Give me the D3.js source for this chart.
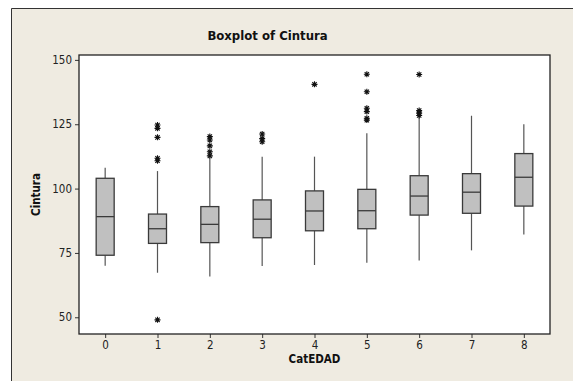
<!DOCTYPE html>
<html>
<head>
<meta charset="utf-8">
<script src="https://cdn.jsdelivr.net/npm/d3@7"></script>
<style>
  body { margin: 0; background: #fff; overflow: hidden; }
  svg { display: block; }
</style>
</head>
<body>
<script>
// data: CatEDAD 0..8
const categories = ['0', '1', '2', '3', '4', '5', '6', '7', '8'];
const whiskerLow = [70, 67.3, 65.8, 69.9, 70.3, 71.2, 72.1, 76.0, 82.2];
const q1 = [74.1, 78.7, 79.0, 80.9, 83.6, 84.4, 89.7, 90.4, 93.2];
const median = [89.1, 84.4, 86.1, 88.1, 91.3, 91.4, 97.1, 98.6, 104.4];
const q3 = [104.0, 90.1, 93.0, 95.6, 99.1, 99.7, 105.0, 105.8, 113.6];
const whiskerHigh = [108.1, 106.8, 111.5, 112.4, 112.4, 121.5, 128.0, 128.3, 125.0];
const outliers = [
  [],
  [124.7, 123.4, 119.9, 111.8, 110.8, 49],
  [120.2, 118.9, 116.6, 114.3, 112.7],
  [121.2, 119.4, 118.2],
  [140.5],
  [144.4, 137.6, 131.2, 129.9, 127.3, 126.6],
  [144.3, 130.3, 129.3, 128.4],
  [],
  []
];
const yTicks = [50, 75, 100, 125, 150];

const width = 573;
const height = 381;
const plot = { left: 79, top: 55, right: 550, bottom: 334 };

const svg = d3.select('body').append('svg')
    .attr('width', width)
    .attr('height', height);

// beige frame, only its left and top edges are in view
svg.append('rect')
    .attr('x', 11).attr('y', 8)
    .attr('width', width - 11).attr('height', height - 8)
    .attr('fill', '#efebe1');
svg.append('path')
    .attr('d', 'M11.5,' + height + 'V8.5H' + width)
    .attr('fill', 'none')
    .attr('stroke', '#333');

svg.append('rect')
    .attr('x', plot.left).attr('y', plot.top)
    .attr('width', plot.right - plot.left).attr('height', plot.bottom - plot.top)
    .attr('fill', '#fff');

const x = d3.scalePoint()
    .domain(categories)
    .range([plot.left, plot.right])
    .padding(0.5);

const y = d3.scaleLinear()
    .domain([43.5, 151.9])
    .range([plot.bottom, plot.top]);

const font = '"DejaVu Sans Condensed", "DejaVu Sans", sans-serif';

const xAxis = svg.append('g')
    .attr('transform', 'translate(0,' + plot.bottom + ')')
    .call(d3.axisBottom(x).tickSize(4).tickPadding(3));
xAxis.select('.domain').remove();

const yAxis = svg.append('g')
    .attr('transform', 'translate(' + plot.left + ',0)')
    .call(d3.axisLeft(y).tickValues(yTicks).tickSize(4).tickPadding(3));
yAxis.select('.domain').remove();

svg.selectAll('.tick text')
    .attr('font-family', font)
    .attr('font-size', 11.5)
    .attr('fill', '#222');
svg.selectAll('.tick line').attr('stroke', '#333');

// plot border
svg.append('rect')
    .attr('x', plot.left).attr('y', plot.top)
    .attr('width', plot.right - plot.left).attr('height', plot.bottom - plot.top)
    .attr('fill', 'none')
    .attr('stroke', '#222')
    .attr('stroke-width', 1.3);

const boxW = 18;
const g = svg.selectAll('.box')
    .data(categories)
  .enter().append('g')
    .attr('class', 'box');

g.append('line')
    .attr('x1', d => x(d)).attr('x2', d => x(d))
    .attr('y1', (d, i) => y(whiskerHigh[i]))
    .attr('y2', (d, i) => y(q3[i]))
    .attr('stroke', '#555').attr('stroke-width', 1.2);

g.append('line')
    .attr('x1', d => x(d)).attr('x2', d => x(d))
    .attr('y1', (d, i) => y(q1[i]))
    .attr('y2', (d, i) => y(whiskerLow[i]))
    .attr('stroke', '#555').attr('stroke-width', 1.2);

g.append('rect')
    .attr('x', d => x(d) - boxW / 2)
    .attr('y', (d, i) => y(q3[i]))
    .attr('width', boxW)
    .attr('height', (d, i) => y(q1[i]) - y(q3[i]))
    .attr('fill', '#c0c0c0')
    .attr('stroke', '#3a3a3a')
    .attr('stroke-width', 1.3);

g.append('line')
    .attr('x1', d => x(d) - boxW / 2).attr('x2', d => x(d) + boxW / 2)
    .attr('y1', (d, i) => y(median[i]))
    .attr('y2', (d, i) => y(median[i]))
    .attr('stroke', '#3a3a3a').attr('stroke-width', 1.3);

// 8-ray star like the Minitab outlier symbol
const r = 3;
const k = r * 0.72;
const star = 'M' + (-r) + ',0H' + r + 'M0,' + (-r) + 'V' + r +
  'M' + (-k) + ',' + (-k) + 'L' + k + ',' + k +
  'M' + (-k) + ',' + k + 'L' + k + ',' + (-k);
g.selectAll('.out')
    .data((d, i) => outliers[i].map(v => ({ c: d, v: v })))
  .enter().append('path')
    .attr('d', star)
    .attr('transform', o => 'translate(' + x(o.c) + ',' + y(o.v) + ')')
    .attr('fill', 'none')
    .attr('stroke', '#111')
    .attr('stroke-width', 1.1);

svg.append('text')
    .attr('x', 267.5).attr('y', 40)
    .attr('text-anchor', 'middle')
    .attr('font-family', font)
    .attr('font-weight', 'bold')
    .attr('font-size', 13)
    .attr('fill', '#111')
    .text('Boxplot of Cintura');

svg.append('text')
    .attr('x', 314.5).attr('y', 363)
    .attr('text-anchor', 'middle')
    .attr('font-family', font)
    .attr('font-weight', 'bold')
    .attr('font-size', 11.5)
    .attr('fill', '#111')
    .text('CatEDAD');

svg.append('text')
    .attr('transform', 'translate(40,' + ((plot.top + plot.bottom) / 2) + ') rotate(-90)')
    .attr('text-anchor', 'middle')
    .attr('font-family', font)
    .attr('font-weight', 'bold')
    .attr('font-size', 11.5)
    .attr('fill', '#111')
    .text('Cintura');
</script>
</body>
</html>
